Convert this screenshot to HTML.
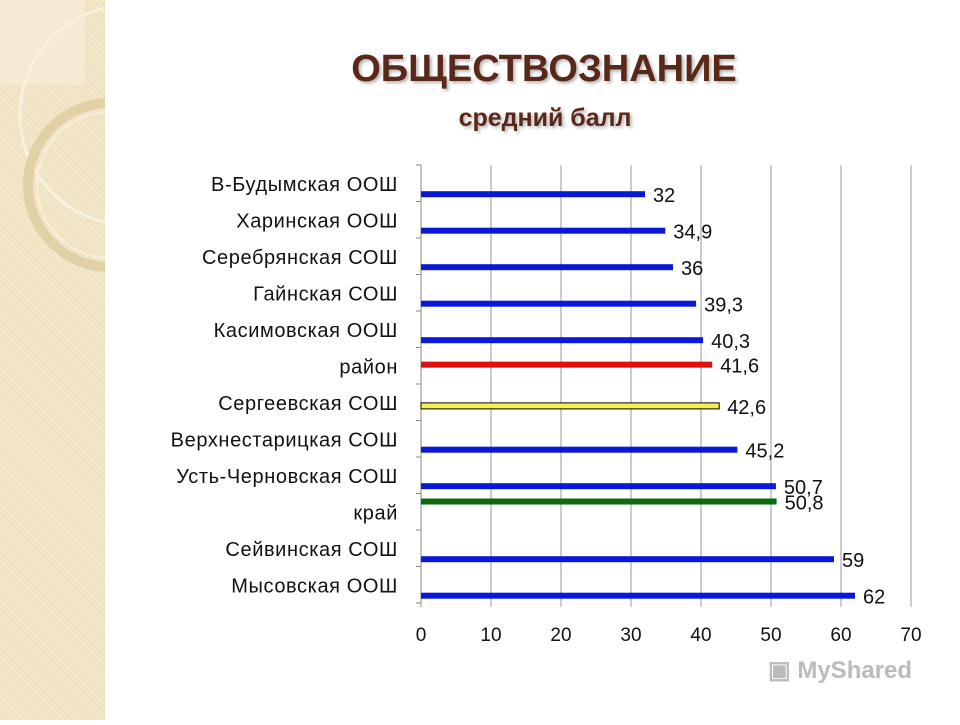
<!DOCTYPE html>
<html><head><meta charset="utf-8"><style>
body{margin:0;width:960px;height:720px;background:#fff;overflow:hidden;position:relative;font-family:"Liberation Sans",sans-serif}
#side{position:absolute;left:0;top:0;width:105px;height:720px;background:#efe1bd;background-image:repeating-linear-gradient(45deg,rgba(255,255,255,.25) 0 2px,transparent 2px 4px)}
.t{position:absolute;left:0;width:1100px;text-align:center;color:#5a2818;font-weight:bold;text-shadow:2px 2px 3px rgba(0,0,0,.3)}
</style></head><body>
<div id="side">
<svg width="105" height="720"><rect x="0" y="0" width="85" height="85" fill="#f5ebd3"/><circle cx="130" cy="115" r="110" fill="none" stroke="#f8f1e0" stroke-width="3"/><circle cx="110" cy="185" r="82" fill="none" stroke="#e2d1a6" stroke-width="10"/><circle cx="110" cy="185" r="73" fill="none" stroke="#f7eedb" stroke-width="2"/></svg></div>
<div class="t" style="top:48px;font-size:38px;left:-2px;width:1092px">ОБЩЕСТВОЗНАНИЕ</div>
<div class="t" style="top:104px;font-size:25px;width:1090px">средний балл</div>
<svg id="c" width="960" height="720" style="position:absolute;left:0;top:0"></svg>
<script>
const categories=["В-Будымская ООШ","Харинская ООШ","Серебрянская СОШ","Гайнская СОШ","Касимовская ООШ","район","Сергеевская СОШ","Верхнестарицкая СОШ","Усть-Черновская СОШ","край","Сейвинская СОШ","Мысовская ООШ"];
const values=[32,34.9,36,39.3,40.3,41.6,42.6,45.2,50.7,50.8,59,62];
const labels=["32","34,9","36","39,3","40,3","41,6","42,6","45,2","50,7","50,8","59","62"];
const series=["blue","blue","blue","blue","blue","red","yellow","blue","blue","green","blue","blue"];
const ticks=[0,10,20,30,40,50,60,70];
const x0=421,x1=911,plotTop=165,band=36.5,bottom=plotTop+band*12;
const X=v=>x0+v*(x1-x0)/70;
const colors={blue:"#0a18d8",red:"#e01010",yellow:"#f4f050",green:"#0d6a10"};
const frac={blue:0.8,red:0.47,yellow:0.6,green:0.22};
const catY=i=>plotTop+(i+0.55)*band;
const svg=document.getElementById('c');const ns="http://www.w3.org/2000/svg";
function mk(t,a){const e=document.createElementNS(ns,t);for(const k in a)e.setAttribute(k,a[k]);svg.appendChild(e);return e;}
ticks.forEach(t=>{const g=mk('line',{x1:X(t),x2:X(t),y1:plotTop,y2:bottom+4,stroke:t?'#999':'#888','stroke-width':1});


const l=mk('text',{x:X(t),y:bottom+38,'text-anchor':'middle','font-size':19,fill:'#111'});l.textContent=t;

});
for(let i=0;i<=12;i++){const tk=mk('line',{x1:x0-5,x2:x0,y1:plotTop+i*band,y2:plotTop+i*band,stroke:'#888'});

}
categories.forEach((c,i)=>{const l=mk('text',{x:398,y:catY(i)+6,'text-anchor':'end','font-size':20,'letter-spacing':0.6,fill:'#111'});l.textContent=c;


const s=series[i];const y=plotTop+(i+frac[s])*band;
const b=mk('rect',{x:x0,y:y-3,width:X(values[i])-x0,height:6,fill:colors[s]});
if(s==='yellow'){b.setAttribute('stroke','#000');b.setAttribute('stroke-width','1');}


const v=mk('text',{x:X(values[i])+8,y:y+8,'font-size':20,fill:'#111'});v.textContent=labels[i];

});
</script>
<div style="position:absolute;left:768px;top:656px;font-size:24px;color:#bbb;font-weight:bold">▣ MyShared</div>
</body></html>
